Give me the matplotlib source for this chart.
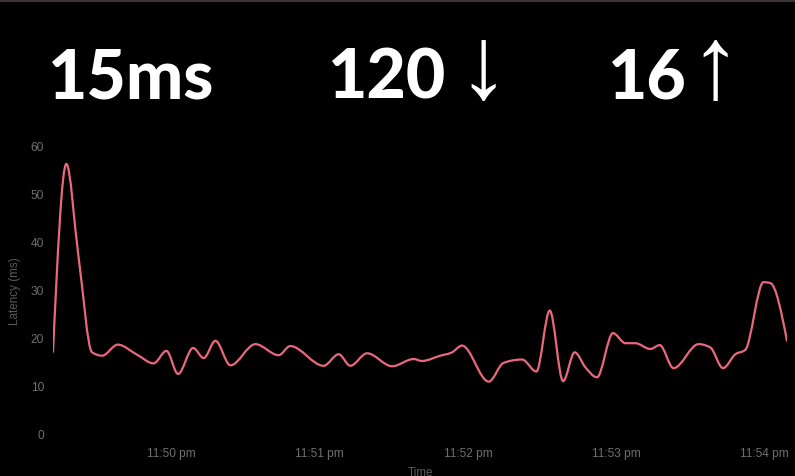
import matplotlib
matplotlib.use("Agg")
import matplotlib.pyplot as plt
import matplotlib.dates as mdates
from matplotlib.path import Path
from matplotlib.patches import PathPatch, Rectangle
from matplotlib.ticker import FuncFormatter
import numpy as np
import pandas as pd

# latency samples (time of day, ms)
times = [
    "23:49:12.1", "23:49:17.5", "23:49:22.4", "23:49:27.9", "23:49:32.0",
    "23:49:38.3", "23:49:46.1", "23:49:52.8", "23:49:58.0", "23:50:02.7",
    "23:50:08.8", "23:50:13.1", "23:50:17.8", "23:50:23.9", "23:50:34.0",
    "23:50:43.4", "23:50:48.1", "23:51:01.6", "23:51:07.7", "23:51:12.4",
    "23:51:19.2", "23:51:29.3", "23:51:38.0", "23:51:41.4", "23:51:48.8",
    "23:51:53.6", "23:51:57.6", "23:52:08.4", "23:52:14.4", "23:52:21.9",
    "23:52:27.7", "23:52:33.1", "23:52:38.5", "23:52:43.2", "23:52:47.5",
    "23:52:52.2", "23:52:58.7", "23:53:03.7", "23:53:07.7", "23:53:13.8",
    "23:53:17.6", "23:53:23.2", "23:53:33.3", "23:53:38.1", "23:53:43.2",
    "23:53:48.2", "23:53:52.2", "23:53:59.6", "23:54:02.4", "23:54:09.1",
]
latency_ms = [
    17.1, 56.2, 37.0, 17.0, 16.3,
    18.6, 16.5, 14.7, 17.3, 12.5,
    17.9, 15.8, 19.4, 14.3, 18.7,
    16.4, 18.3, 14.2, 16.6, 14.2,
    16.8, 14.1, 15.6, 15.2, 16.3,
    17.0, 18.4, 10.9, 14.8, 15.5,
    13.0, 25.7, 11.0, 17.0, 13.9,
    11.8, 21.0, 18.9, 18.9, 17.7,
    18.5, 13.7, 18.7, 18.0, 13.7,
    16.6, 17.5, 31.6, 31.4, 19.4,
]

stat_values = ["15ms", "120", "16"]
stat_arrows = ["", "\u2193", "\u2191"]

LINE = "#e9687e"
TICK = "#6f6f6f"


def monotone_path(x, y):
    # monotone cubic (d3 curveMonotoneX) as bezier segments
    x = np.asarray(x, float)
    y = np.asarray(y, float)
    h = np.diff(x)
    s = np.diff(y) / h
    t = np.zeros_like(y)
    for i in range(1, len(y) - 1):
        p = (s[i - 1] * h[i] + s[i] * h[i - 1]) / (h[i - 1] + h[i])
        t[i] = (np.sign(s[i - 1]) + np.sign(s[i])) * min(abs(s[i - 1]), abs(s[i]), 0.5 * abs(p))
    t[0] = (3 * s[0] - t[1]) / 2
    t[-1] = (3 * s[-1] - t[-2]) / 2
    verts = [(x[0], y[0])]
    codes = [Path.MOVETO]
    for i in range(len(h)):
        dx = h[i] / 3
        verts += [(x[i] + dx, y[i] + dx * t[i]),
                  (x[i + 1] - dx, y[i + 1] - dx * t[i + 1]),
                  (x[i + 1], y[i + 1])]
        codes += [Path.CURVE4] * 3
    return Path(verts, codes)


xs = mdates.date2num(pd.to_datetime(["2024-01-01 " + t for t in times]))

fig = plt.figure(figsize=(7.95, 4.77), dpi=100, facecolor="black")
W, H = 795, 477

# thin bar at the very top
fig.patches.append(Rectangle((0, 1 - 3 / H), 1, 3 / H, transform=fig.transFigure,
                             facecolor="#3a3437", edgecolor="none"))

ax = fig.add_axes([53 / W, (H - 435) / H, 734 / W, (435 - 146.7) / H])
ax.set_facecolor("black")
ax.add_patch(PathPatch(monotone_path(xs, latency_ms), facecolor="none",
                       edgecolor=LINE, linewidth=1.6, capstyle="round", joinstyle="round"))
ax.set_xlim(xs[0], xs[-1])
ax.set_ylim(0, 60)

for sp in ax.spines.values():
    sp.set_visible(False)
ax.set_yticks(range(0, 61, 10))
ax.xaxis.set_major_locator(mdates.MinuteLocator())
ax.xaxis.set_major_formatter(FuncFormatter(
    lambda v, pos: mdates.num2date(v).strftime("%I:%M %p").lstrip("0").lower()))
ax.tick_params(axis="both", length=0, colors=TICK, labelsize=8.6)
ax.tick_params(axis="y", pad=6.5)
ax.tick_params(axis="x", pad=9.5)
for lab in ax.get_xticklabels() + ax.get_yticklabels():
    lab.set_family("Liberation Sans")

ax.set_ylabel("Latency (ms)", color="#5a5a5a", fontsize=8.4, family="Liberation Sans")
ax.yaxis.label.set_verticalalignment("center")
ax.yaxis.set_label_coords(-38 / 734, 0.5)
ax.set_xlabel("Time", color="#5a5a5a", fontsize=8.4, family="Liberation Sans")
ax.xaxis.label.set_verticalalignment("center")
ax.xaxis.set_label_coords(0.5, -38 / 288.3)

# big stats across the top
left_px = [48, 328, 608]
arrow_px = [None, 457, 689]
for val, arr, lx, arr_x in zip(stat_values, stat_arrows, left_px, arrow_px):
    fig.text(lx / W, 1 - 98.3 / H, val, color="white", fontsize=49,
             family="Lato", weight="black", ha="left", va="baseline")
    if arr:
        fig.text(arr_x / W, 1 - 98.3 / H, arr, color="white", fontsize=74,
                 family="Liberation Sans", ha="left", va="baseline")

fig.savefig("out.png", dpi=100, facecolor="black")
